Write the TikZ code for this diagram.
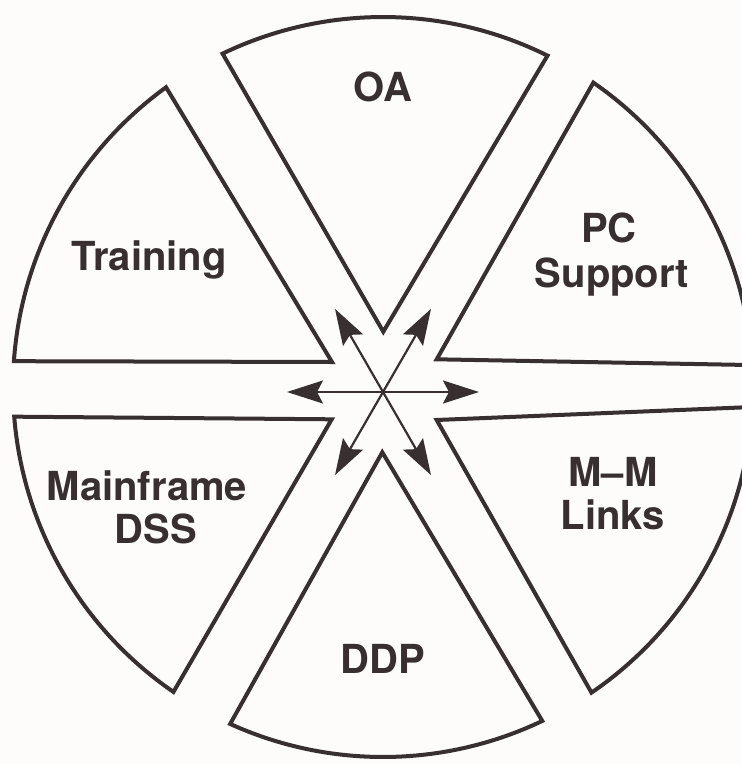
\documentclass[tikz,border=0pt]{standalone}
\usepackage{fontspec}
\setmainfont{TeX Gyre Heros}
\usetikzlibrary{arrows.meta}
\definecolor{ink}{RGB}{55,47,48}
\definecolor{paper}{RGB}{253,252,250}
\begin{document}
\begin{tikzpicture}[x=1pt,y=-1pt,
  sector/.style={draw=ink, line width=4pt, line join=miter},
  lbl/.style={text=ink, font=\fontsize{40}{44}\selectfont\bfseries, anchor=base, inner sep=0pt},
  dbl/.style={draw=ink, line width=2.2pt, {Stealth[length=36pt,width=23pt,inset=6pt]}-{Stealth[length=36pt,width=23pt,inset=6pt]}}]
\fill[paper] (0,0) rectangle (742,764);
\useasboundingbox (0,0) rectangle (742,764);
\begin{scope}
\clip (0,0) rectangle (742,764);
\coordinate (C) at (383,387);
% apexes
\coordinate (aOA) at (383.3,331.7);
\coordinate (aTR) at (332,362);
\coordinate (aMF) at (331.7,419.3);
\coordinate (aDD) at (382.3,452.3);
\coordinate (aMM) at (436.7,420);
\coordinate (aPC) at (436.7,359.3);
% corners on the circle
\path (C) ++(-115.7:370) coordinate (cOA1);
\path (C) ++(-176:370) coordinate (cTR1);
\path (C) ++(175.4:370) coordinate (cMF1);
\path (C) ++(114.4:370) coordinate (cDD1);
\path (C) ++(3.1:370) coordinate (cMM1);
\path (C) ++(-3.4:370) coordinate (cPC1);
% sectors
\draw[sector] (aOA) -- (cOA1) arc[start angle=-115.7, end angle=-63.6, radius=370] -- cycle;
\draw[sector] (aTR) -- (cTR1) arc[start angle=-176, end angle=-125.9, radius=370] -- cycle;
\draw[sector] (aMF) -- (cMF1) arc[start angle=175.4, end angle=124.5, radius=370] -- cycle;
\draw[sector] (aDD) -- (cDD1) arc[start angle=114.4, end angle=64.5, radius=370] -- cycle;
\draw[sector] (aMM) -- (cMM1) arc[start angle=3.1, end angle=55.7, radius=370] -- cycle;
\draw[sector] (aPC) -- (cPC1) arc[start angle=-3.4, end angle=-55.35, radius=370] -- cycle;
\end{scope}
% arrows
\coordinate (O) at (383,392);
\path (O) ++(0:96) coordinate (t0);
\path (O) ++(180:96) coordinate (t180);
\path (O) ++(60:96) coordinate (t60);
\path (O) ++(-120:96) coordinate (t240);
\path (O) ++(-60:96) coordinate (t300);
\path (O) ++(120:96) coordinate (t120);
\draw[dbl] (t180) -- (t0);
\draw[dbl] (t240) -- (t60);
\draw[dbl] (t300) -- (t120);
% labels
\node[lbl] (oa) at (383,101) {OA};
\node[lbl] (pc1) at (609,242) {PC};
\node[lbl] (pc2) at (612,287) {Support};
\node[lbl] (tr) at (149,270) {Training};
\node[lbl] (mf1) at (147,500) {Mainframe};
\node[lbl] (mf2) at (156,543) {DSS};
\node[lbl] (dd) at (383,673) {DDP};
\node[lbl] (mm1) at (613,486) {M--M};
\node[lbl] (mm2) at (613,529) {Links};
\end{tikzpicture}
\end{document}
